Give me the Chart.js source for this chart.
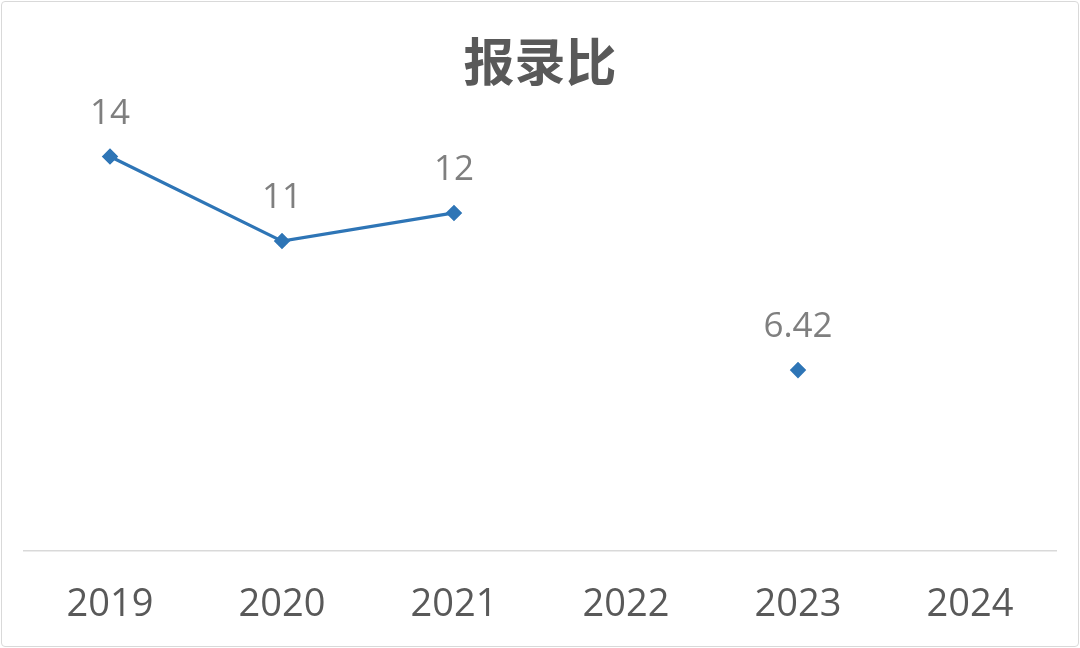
<!DOCTYPE html>
<html>
<head>
<meta charset="utf-8">
<script src="https://cdn.jsdelivr.net/npm/chart.js@4"></script>
<style>
    html, body { margin: 0; padding: 0; background: #fff; }
    #wrap { position: relative; width: 1080px; height: 648px; }
    #frame {
        position: absolute; left: 1px; top: 1px; right: 1px; bottom: 1px;
        border: 1.5px solid #d9d9d9; border-radius: 4px; pointer-events: none;
    }
</style>
</head>
<body>
<div id="wrap">
    <canvas id="chart" width="1080" height="648"></canvas>
    <div id="frame"></div>
</div>
<script>
const years = ['2019', '2020', '2021', '2022', '2023', '2024'];
const ratio = [14, 11, 12, null, 6.42, null];
const ratioLabels = ['14', '11', '12', '', '6.42', ''];

// labels above each point
const pointLabels = {
    id: 'pointLabels',
    afterDatasetsDraw(chart) {
        const ctx = chart.ctx;
        const meta = chart.getDatasetMeta(0);
        ctx.save();
        ctx.font = '35px "Open Sans", "Noto Sans", sans-serif';
        ctx.fillStyle = '#7f7f7f';
        ctx.textAlign = 'center';
        ctx.textBaseline = 'middle';
        meta.data.forEach((pt, i) => {
            if (ratio[i] === null) return;
            ctx.fillText(ratioLabels[i], pt.x, pt.y - 43);
        });
        ctx.restore();
    }
};

new Chart(document.getElementById('chart'), {
    type: 'line',
    data: {
        labels: years,
        datasets: [{
            label: '报录比',
            data: ratio,
            borderColor: '#2e75b6',
            backgroundColor: '#2e75b6',
            borderWidth: 3.2,
            pointStyle: 'rectRot',
            pointRadius: 6,
            pointHoverRadius: 6,
            spanGaps: false,
            tension: 0
        }]
    },
    options: {
        responsive: false,
        animation: false,
        layout: {
            padding: { left: 24, right: 24, top: 0, bottom: 0 }
        },
        scales: {
            y: {
                display: false,
                min: 0,
                max: 16
            },
            x: {
                offset: true,
                grid: { display: false },
                border: { display: true, color: '#d9d9d9', width: 1.5 },
                ticks: {
                    color: '#595959',
                    padding: 23,
                    font: { size: 38, family: '"Open Sans", "Noto Sans", sans-serif' }
                },
                afterFit(scale) { scale.height = 97; }
            }
        },
        plugins: {
            legend: { display: false },
            tooltip: { enabled: false },
            title: {
                display: true,
                text: '报录比',
                color: '#595959',
                padding: { top: 31, bottom: 8 },
                font: { size: 51, weight: 'bold', family: '"Noto Sans CJK SC", sans-serif' }
            }
        }
    },
    plugins: [pointLabels]
});
</script>
</body>
</html>
